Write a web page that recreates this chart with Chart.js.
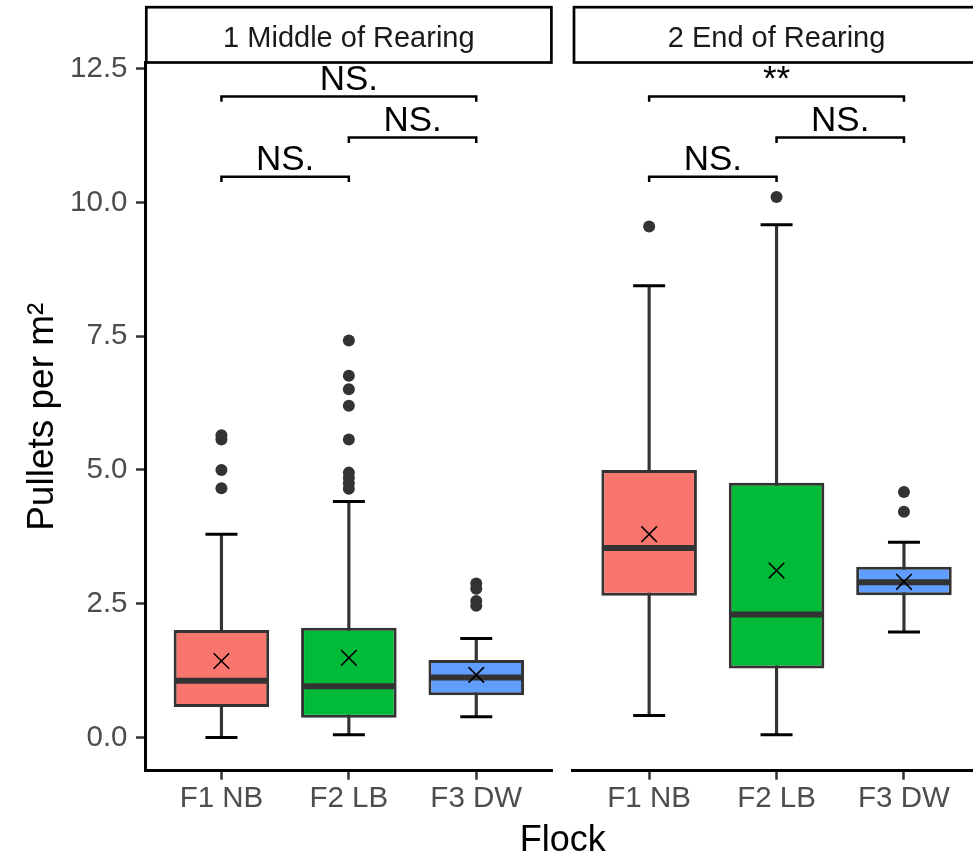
<!DOCTYPE html>
<html>
<head>
<meta charset="utf-8">
<script src="https://cdn.jsdelivr.net/npm/chart.js@4.4.1/dist/chart.umd.min.js"></script>
<style>
  html, body { margin: 0; padding: 0; background: #fff; overflow: hidden; }
  #wrap { position: relative; width: 973px; height: 855px; overflow: hidden; }
  canvas { position: absolute; left: 0; top: 0; }
</style>
</head>
<body>
<div id="wrap">
  <canvas id="middleChart" width="1060" height="855"></canvas>
  <canvas id="endChart" width="1060" height="855"></canvas>
</div>
<script>
const flocks = ['F1 NB', 'F2 LB', 'F3 DW'];
const flockColors = ['#F8766D', '#00BA38', '#619CFF'];
const yTicks = [0, 2.5, 5, 7.5, 10, 12.5];
const facetTitles = ['1 Middle of Rearing', '2 End of Rearing'];
const yTitle = 'Pullets per m²';
const xTitle = 'Flock';

// 1 Middle of Rearing
const midLow = [0.0, 0.05, 0.39];
const midQ1 = [0.57, 0.37, 0.79];
const midMedian = [1.06, 0.96, 1.12];
const midQ3 = [2.01, 2.05, 1.45];
const midHigh = [3.80, 4.41, 1.85];
const midMean = [1.43, 1.49, 1.17];
const midOutliers = [
    [5.65, 5.57, 5.0, 4.66],
    [7.42, 6.76, 6.51, 6.20, 5.57, 4.95, 4.85, 4.75, 4.65],
    [2.88, 2.78, 2.55, 2.46]
];

// 2 End of Rearing
const endLow = [0.41, 0.05, 1.97];
const endQ1 = [2.65, 1.29, 2.66];
const endMedian = [3.54, 2.30, 2.90];
const endQ3 = [5.0, 4.76, 3.19];
const endHigh = [8.44, 9.58, 3.65];
const endMean = [3.80, 3.12, 2.91];
const endOutliers = [[9.55], [10.10], [4.59, 4.22]];

// significance brackets (flock index pairs, bracket height)
const pairs = [[1, 2], [2, 3], [1, 3]];
const pairY = [10.48, 11.21, 11.98];
const midSig = ['NS.', 'NS.', 'NS.'];
const endSig = ['NS.', 'NS.', '**'];

// layout
const canvasW = 1060, canvasH = 855;
const panelTop = 62.7, panelBottom = 770.7;
const leftPanel = [145, 552.7];
const rightPanel = [572.7, 980.4];

Chart.defaults.font.family = "'Liberation Sans', Arial, sans-serif";

function boxDatasets(lo, q1, med, q3, hi, mean, outliers) {
    const xs = flocks.map((f, i) => i + 1);
    return [
        {
            type: 'bar',
            data: xs.map((x, i) => ({ x, y: [lo[i], hi[i]] })),
            backgroundColor: '#333333',
            barThickness: 2.5,
            grouped: false,
            order: 6
        },
        {
            type: 'bar',
            data: xs.map((x, i) => ({ x, y: [q1[i], q3[i]] })),
            backgroundColor: flockColors,
            borderColor: '#333333',
            borderWidth: 3,
            borderSkipped: false,
            barPercentage: 0.75,
            categoryPercentage: 1,
            grouped: false,
            order: 5
        },
        {
            type: 'scatter',
            data: xs.flatMap((x, i) => [{ x, y: lo[i] }, { x, y: hi[i] }]),
            pointStyle: 'line',
            pointRadius: 16,
            borderColor: '#000',
            borderWidth: 3,
            order: 4
        },
        {
            type: 'scatter',
            data: xs.map((x, i) => ({ x, y: med[i] })),
            pointStyle: 'line',
            pointRadius: 46.5,
            borderColor: '#333333',
            borderWidth: 6,
            order: 3
        },
        {
            type: 'scatter',
            data: xs.flatMap((x, i) => outliers[i].map(v => ({ x, y: v }))),
            pointRadius: 6,
            backgroundColor: '#333333',
            borderWidth: 0,
            order: 2
        },
        {
            type: 'scatter',
            data: xs.map((x, i) => ({ x, y: mean[i] })),
            pointStyle: 'crossRot',
            pointRadius: 11,
            borderColor: '#000',
            borderWidth: 1.6,
            order: 1
        }
    ];
}

const facetPlugin = {
    id: 'facet',
    afterDraw(chart, args, opts) {
        const { ctx, chartArea: a, scales: { x, y } } = chart;
        ctx.save();
        // strip
        ctx.fillStyle = '#fff';
        ctx.strokeStyle = '#000';
        ctx.lineWidth = 2.7;
        ctx.fillRect(a.left + 1.3, 7.2, a.right - a.left - 2.6, 62.5 - 7.2);
        ctx.strokeRect(a.left + 1.3, 7.2, a.right - a.left - 2.6, 62.5 - 7.2);
        ctx.fillStyle = '#1a1a1a';
        ctx.font = "29px 'Liberation Sans', Arial, sans-serif";
        ctx.textAlign = 'center';
        ctx.textBaseline = 'alphabetic';
        ctx.fillText(opts.title, (a.left + a.right) / 2, 46.7);

        // brackets
        ctx.strokeStyle = '#000';
        ctx.fillStyle = '#000';
        ctx.lineWidth = 2.5;
        ctx.font = "35px 'Liberation Sans', Arial, sans-serif";
        pairs.forEach(([i, j], k) => {
            const x1 = x.getPixelForValue(i), x2 = x.getPixelForValue(j);
            const yy = y.getPixelForValue(pairY[k]);
            const yt = y.getPixelForValue(pairY[k] - 0.1);
            ctx.beginPath();
            ctx.moveTo(x1, yt);
            ctx.lineTo(x1, yy);
            ctx.lineTo(x2, yy);
            ctx.lineTo(x2, yt);
            ctx.stroke();
            ctx.fillText(opts.labels[k], (x1 + x2) / 2, yy - 6.5);
        });

        if (opts.xTitle) {
            ctx.font = "36px 'Liberation Sans', Arial, sans-serif";
            ctx.fillText(opts.xTitle, (leftPanel[0] + rightPanel[1]) / 2, 851);
        }
        ctx.restore();
    }
};

function makeChart(id, datasets, panel, showY, title, labels, bottomTitle) {
    return new Chart(document.getElementById(id), {
        type: 'bar',
        data: { datasets },
        plugins: [facetPlugin],
        options: {
            responsive: false,
            animation: false,
            layout: {
                padding: {
                    left: showY ? 0 : panel[0],
                    right: canvasW - panel[1],
                    top: panelTop,
                    bottom: 0
                }
            },
            plugins: {
                legend: { display: false },
                tooltip: { enabled: false },
                facet: { title, labels, xTitle: bottomTitle }
            },
            scales: {
                x: {
                    type: 'linear',
                    min: 0.4,
                    max: 3.6,
                    offset: false,
                    afterBuildTicks: s => { s.ticks = flocks.map((f, i) => ({ value: i + 1 })); },
                    afterFit: s => { s.height = canvasH - panelBottom; },
                    ticks: {
                        callback: v => flocks[v - 1],
                        color: '#4d4d4d',
                        font: { size: 29.5 },
                        padding: 1,
                        autoSkip: false,
                        maxRotation: 0
                    },
                    grid: {
                        display: true,
                        offset: false,
                        drawOnChartArea: false,
                        drawTicks: true,
                        tickLength: 9,
                        tickColor: '#333333',
                        tickWidth: 2.5
                    },
                    border: { display: true, color: '#000', width: 3 }
                },
                y: {
                    display: showY,
                    min: -0.62,
                    max: 12.61,
                    afterBuildTicks: s => { s.ticks = yTicks.map(v => ({ value: v })); },
                    afterFit: s => { s.width = showY ? panel[0] : 0; },
                    ticks: {
                        callback: v => v.toFixed(1),
                        color: '#4d4d4d',
                        font: { size: 29.5 },
                        padding: 8.5
                    },
                    grid: {
                        display: true,
                        drawOnChartArea: false,
                        drawTicks: true,
                        tickLength: 9,
                        tickColor: '#333333',
                        tickWidth: 2.5
                    },
                    border: { display: true, color: '#000', width: 3 },
                    title: {
                        display: true,
                        text: yTitle,
                        color: '#000',
                        font: { size: 37 },
                        padding: { top: 21, bottom: 0 }
                    }
                }
            }
        }
    });
}

makeChart('middleChart',
    boxDatasets(midLow, midQ1, midMedian, midQ3, midHigh, midMean, midOutliers),
    leftPanel, true, facetTitles[0], midSig, null);

makeChart('endChart',
    boxDatasets(endLow, endQ1, endMedian, endQ3, endHigh, endMean, endOutliers),
    rightPanel, false, facetTitles[1], endSig, xTitle);
</script>
</body>
</html>
